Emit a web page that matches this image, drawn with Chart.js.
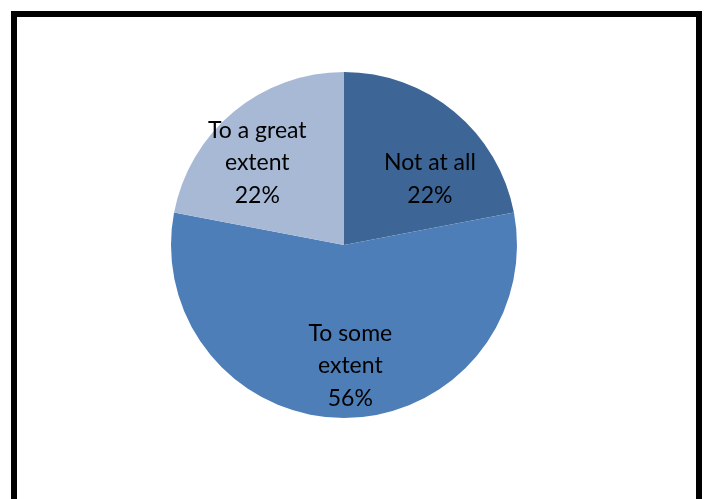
<!DOCTYPE html>
<html>
<head>
<meta charset="utf-8">
<script src="https://cdn.jsdelivr.net/npm/chart.js@4"></script>
<style>
  html, body { margin: 0; padding: 0; background: #fff; overflow: hidden; }
  body { width: 704px; height: 499px; position: relative; }
  #marco {
    position: absolute; left: 11px; top: 11px;
    width: 691px; height: 600px;
    box-sizing: border-box;
    border: 6px solid #000;
    background: #fff;
  }
  #grafico { position: absolute; left: 17px; top: 17px; }
</style>
</head>
<body>
<div id="marco"></div>
<canvas id="grafico" width="679" height="482"></canvas>
<script>
// Datos del gráfico
const categorias = ["Not at all", "To some extent", "To a great extent"];
const porcentajes = [22, 56, 22];

// Etiquetas tal como aparecen (líneas)
const lineasEtiqueta = [
    ["Not at all", "22%"],
    ["To some", "extent", "56%"],
    ["To a great", "extent", "22%"]
];

const colores = ["#3D6697", "#4E7EB8", "#A8B9D6"];

// Ajustes de ubicación de etiquetas (fracción del radio, giro en grados)
const ajusteEtiquetas = [
    { f: 0.625, giro: 13 },
    { f: 0.70, giro: -3 },
    { f: 0.69, giro: -7 }
];

const etiquetasPlugin = {
    id: "etiquetas",
    afterDatasetsDraw(chart) {
        const ctx = chart.ctx;
        const meta = chart.getDatasetMeta(0);
        ctx.save();
        ctx.font = "23px Lato";
        ctx.fillStyle = "#000";
        ctx.textAlign = "center";
        ctx.textBaseline = "middle";
        const altoLinea = 32.5;
        meta.data.forEach((arco, i) => {
            const p = arco.getProps(["x", "y", "startAngle", "endAngle", "outerRadius"], true);
            const aj = ajusteEtiquetas[i];
            const ang = (p.startAngle + p.endAngle) / 2 + aj.giro * Math.PI / 180;
            const r = p.outerRadius * aj.f;
            const cx = p.x + Math.cos(ang) * r;
            const cy = p.y + Math.sin(ang) * r;
            const lineas = lineasEtiqueta[i];
            const y0 = cy - (lineas.length - 1) * altoLinea / 2;
            lineas.forEach((linea, k) => {
                ctx.fillText(linea, cx, y0 + k * altoLinea);
            });
        });
        ctx.restore();
    }
};

new Chart(document.getElementById("grafico"), {
    type: "pie",
    data: {
        labels: categorias,
        datasets: [{
            data: porcentajes,
            backgroundColor: colores,
            borderWidth: 0
        }]
    },
    options: {
        responsive: false,
        animation: false,
        layout: {
            padding: { left: 154, right: 179, top: 55, bottom: 81 }
        },
        plugins: {
            legend: { display: false },
            tooltip: { enabled: false }
        }
    },
    plugins: [etiquetasPlugin]
});
</script>
</body>
</html>
